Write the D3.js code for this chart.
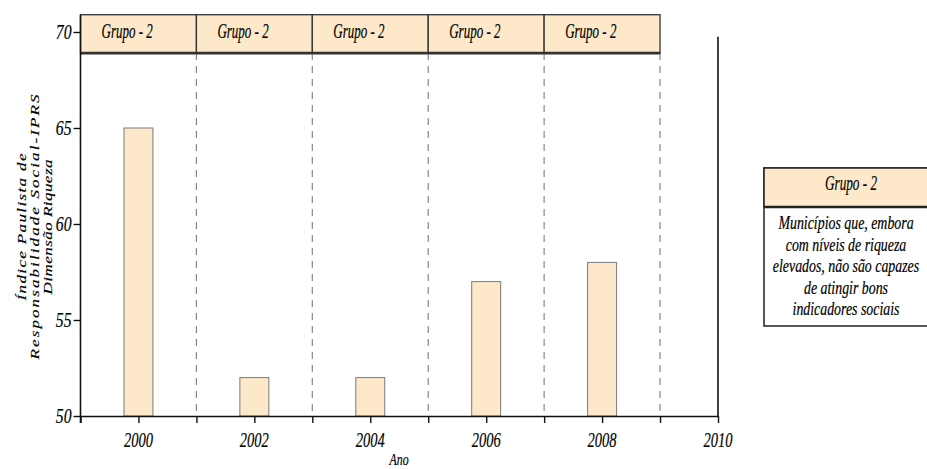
<!DOCTYPE html>
<html><head><meta charset="utf-8">
<script src="https://cdn.jsdelivr.net/npm/d3@7"></script>
<style>body{margin:0;background:#fff}svg{display:block}text{font-family:"Liberation Serif","Times New Roman",serif;font-style:italic}</style>
</head><body>
<svg id="c" width="927" height="469"></svg>
<script>
const years = [2000, 2002, 2004, 2006, 2008];
const values = [65, 52, 52, 57, 58];
const groupStarts = [1999, 2001, 2003, 2005, 2007];
const groupLabels = ["Grupo - 2", "Grupo - 2", "Grupo - 2", "Grupo - 2", "Grupo - 2"];
const xTickLabels = [2000, 2002, 2004, 2006, 2008, 2010];
const xAllTicks = [1999, 2000, 2001, 2002, 2003, 2004, 2005, 2006, 2007, 2008, 2009, 2010];
const yTicks = [50, 55, 60, 65, 70];
const yTitle = ["Índice Paulista de", "Responsabilidade Social-IPRS", "Dimensão Riqueza"];
const xTitle = "Ano";
const legendTitle = "Grupo - 2";
const legendLines = ["Municípios que, embora", "com níveis de riqueza", "elevados, não são capazes", "de atingir bons", "indicadores sociais"];

const FILL = "#FDE9C9";
const svg = d3.select("#c");
const x = d3.scaleLinear().domain([1999, 2010]).range([80.5, 718]);
const y = d3.scaleLinear().domain([50, 70]).range([416, 32]);

function stxt(g, px, py, s, size, sx, anchor, rot) {
  return g.append("text")
    .attr("transform", `translate(${px},${py}) scale(${sx},1)` + (rot ? ` rotate(${rot})` : ""))
    .attr("text-anchor", anchor)
    .attr("font-size", size).attr("fill", "#000")
    .attr("stroke", "#000").attr("stroke-width", 0.2)
    .text(s);
}

const bandTop = y(70.9), bandBot = y(68.9);

// dashed separators
svg.append("g").selectAll("line").data(groupStarts).join("line")
  .attr("x1", d => x(d + 2)).attr("x2", d => x(d + 2))
  .attr("y1", bandBot).attr("y2", y(50))
  .attr("stroke", "#888").attr("stroke-width", 1.2).attr("stroke-dasharray", "7,6");

// bars
svg.append("g").selectAll("rect").data(years).join("rect")
  .attr("x", d => x(d - 0.25)).attr("width", x(2000.25) - x(1999.75))
  .attr("y", (d, i) => y(values[i])).attr("height", (d, i) => y(50) - y(values[i]))
  .attr("fill", FILL).attr("stroke", "#7a7a7a").attr("stroke-width", 1);

// header band cells
const hg = svg.append("g");
hg.selectAll("rect").data(groupStarts).join("rect")
  .attr("x", d => x(d)).attr("width", d => x(d + 2) - x(d))
  .attr("y", bandTop).attr("height", bandBot - bandTop)
  .attr("fill", FILL).attr("stroke", "#333").attr("stroke-width", 1.3);
hg.append("line").attr("x1", x(1999)).attr("x2", x(2009))
  .attr("y1", bandBot).attr("y2", bandBot).attr("stroke", "#333").attr("stroke-width", 2.6);
groupStarts.forEach((d, i) => stxt(hg, x(d) + 21, bandTop + 23.5, groupLabels[i], 20, 0.65, "start"));

// axes
const xAxis = d3.axisBottom(x).tickValues(xAllTicks).tickSize(7).tickSizeOuter(0).tickFormat("");
const gx = svg.append("g").attr("transform", `translate(0,${y(50)})`).call(xAxis);
gx.select(".domain").attr("stroke", "#111").attr("stroke-width", 1.6);
gx.selectAll(".tick line").attr("stroke", "#111").attr("stroke-width", 1.4);

const yAxis = d3.axisLeft(y).tickValues(yTicks).tickSize(7).tickSizeOuter(0).tickFormat("");
const gy = svg.append("g").attr("transform", `translate(${x(1999)},0)`).call(yAxis);
gy.select(".domain").remove();
gy.selectAll(".tick line").attr("stroke", "#111").attr("stroke-width", 1.4);
svg.append("line").attr("x1", x(1999)).attr("x2", x(1999))
  .attr("y1", bandTop).attr("y2", y(50) + 7).attr("stroke", "#111").attr("stroke-width", 1.6);
// right frame line
svg.append("line").attr("x1", x(2010)).attr("x2", x(2010))
  .attr("y1", y(69.75)).attr("y2", y(50)).attr("stroke", "#111").attr("stroke-width", 1.6);

// tick labels
const tl = svg.append("g");
yTicks.forEach(v => stxt(tl, x(1999) - 9, y(v) + 7, String(v), 21, 0.75, "end"));
xTickLabels.forEach(v => stxt(tl, x(v), y(50) + 31, String(v), 22, 0.66, "middle"));
stxt(tl, 399, 465, xTitle, 17, 0.7, "middle");

// y title
const yt = svg.append("g");
const ytX = [26, 39, 52], ytLen = [147, 265, 135];
yTitle.forEach((s, i) => {
  stxt(yt, ytX[i], 227, s, 17, 0.74, "middle", -90)
    .attr("textLength", ytLen[i]).attr("lengthAdjust", "spacing");
});

// legend
const lg = svg.append("g");
lg.append("rect").attr("x", 764).attr("y", 168).attr("width", 180).attr("height", 158)
  .attr("fill", "#fff").attr("stroke", "#222").attr("stroke-width", 1.5);
lg.append("rect").attr("x", 764).attr("y", 168).attr("width", 180).attr("height", 39)
  .attr("fill", FILL).attr("stroke", "#222").attr("stroke-width", 1.5);
lg.append("line").attr("x1", 764).attr("x2", 927).attr("y1", 207).attr("y2", 207)
  .attr("stroke", "#222").attr("stroke-width", 2.4);
stxt(lg, 851, 190, legendTitle, 20, 0.66, "middle");
legendLines.forEach((s, i) => stxt(lg, 846, 229 + i * 21.6, s, 19, 0.73, "middle"));
</script>
</body></html>
